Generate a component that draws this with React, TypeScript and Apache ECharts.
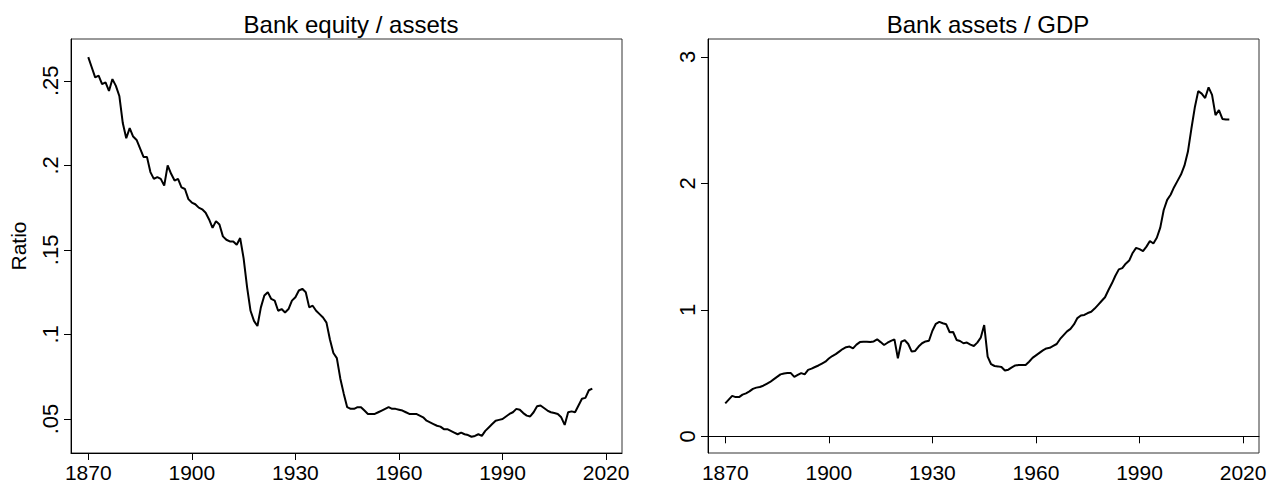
import React, { useEffect, useRef } from "react";
import * as echarts from "echarts";

const startYear = 1870;

const equityAssets = [
  0.264, 0.258, 0.252, 0.253, 0.248, 0.249, 0.244, 0.251, 0.247, 0.241,
  0.225, 0.216, 0.222, 0.217, 0.215, 0.210, 0.205, 0.205, 0.196, 0.192,
  0.193, 0.192, 0.188, 0.200, 0.195, 0.191, 0.192, 0.187, 0.186, 0.180,
  0.178, 0.177, 0.175, 0.174, 0.172, 0.168, 0.163, 0.167, 0.165, 0.158,
  0.156, 0.155, 0.155, 0.153, 0.157, 0.145, 0.128, 0.114, 0.108, 0.105,
  0.116, 0.123, 0.125, 0.121, 0.120, 0.114, 0.115, 0.113, 0.115, 0.120,
  0.122, 0.126, 0.127, 0.125, 0.116, 0.117, 0.114, 0.112, 0.110, 0.107,
  0.097, 0.089, 0.086, 0.074, 0.065, 0.057, 0.056, 0.056, 0.057, 0.057,
  0.055, 0.053, 0.053, 0.053, 0.054, 0.055, 0.056, 0.057, 0.056, 0.056,
  0.0555, 0.055, 0.054, 0.053, 0.053, 0.053, 0.052, 0.051, 0.049, 0.048,
  0.047, 0.046, 0.0455, 0.044, 0.044, 0.043, 0.042, 0.041, 0.042, 0.041,
  0.0405, 0.0395, 0.040, 0.041, 0.040, 0.043, 0.045, 0.047, 0.049, 0.0495,
  0.050, 0.0515, 0.053, 0.054, 0.056, 0.0555, 0.0535, 0.052, 0.0515, 0.054,
  0.0575, 0.058, 0.0565, 0.055, 0.054, 0.0535, 0.053, 0.051, 0.0465, 0.054,
  0.0545, 0.054, 0.058, 0.062, 0.0625, 0.067, 0.068,
];

const assetsGdp = [
  0.26, 0.29, 0.32, 0.31, 0.31, 0.33, 0.34, 0.355, 0.375, 0.385,
  0.39, 0.40, 0.415, 0.43, 0.45, 0.47, 0.49, 0.497, 0.50, 0.50,
  0.47, 0.485, 0.50, 0.49, 0.525, 0.535, 0.548, 0.56, 0.575, 0.59,
  0.615, 0.635, 0.65, 0.67, 0.69, 0.705, 0.71, 0.695, 0.725, 0.745,
  0.748, 0.748, 0.745, 0.75, 0.767, 0.745, 0.722, 0.74, 0.755, 0.767,
  0.617, 0.748, 0.76, 0.73, 0.67, 0.675, 0.71, 0.736, 0.75, 0.756,
  0.835, 0.89, 0.905, 0.894, 0.886, 0.823, 0.825, 0.762, 0.754, 0.736,
  0.741, 0.725, 0.714, 0.741, 0.78, 0.88, 0.63, 0.57, 0.556, 0.553,
  0.548, 0.52, 0.527, 0.545, 0.56, 0.564, 0.564, 0.564, 0.59, 0.62,
  0.64, 0.66, 0.68, 0.695, 0.70, 0.715, 0.73, 0.77, 0.80, 0.83,
  0.85, 0.885, 0.935, 0.955, 0.96, 0.975, 0.985, 1.01, 1.04, 1.07,
  1.10, 1.157, 1.21, 1.27, 1.32, 1.33, 1.365, 1.39, 1.45, 1.49,
  1.48, 1.465, 1.50, 1.545, 1.525, 1.57, 1.65, 1.79, 1.87, 1.91,
  1.97, 2.02, 2.07, 2.14, 2.25, 2.43, 2.60, 2.73, 2.71, 2.675,
  2.76, 2.70, 2.54, 2.58, 2.51, 2.505, 2.505,
];

const xTicks = [1870, 1900, 1930, 1960, 1990, 2020];
const leftTicks = [0.05, 0.1, 0.15, 0.2, 0.25];
const rightTicks = [0, 1, 2, 3];

const titles = ["Bank equity / assets", "Bank assets / GDP"];
const leftAxisName = "Ratio";

const FONT = '"Liberation Sans", Arial, Helvetica, sans-serif';

function toPairs(values: number[]) {
  return values.map((v, i) => [startYear + i, v]);
}

export default function App() {
  const ref = useRef<HTMLDivElement>(null);
  useEffect(() => {
    if (!ref.current) return;
    const chart = echarts.init(ref.current, null, { renderer: "svg" });
    const axisLine = { show: true, lineStyle: { color: "#000", width: 1 } };
    const axisTick = (vals: number[]) => ({
      show: true,
      length: 7,
      lineStyle: { color: "#000", width: 1 },
      customValues: vals,
    });
    const xAxis = (gi: number) => ({
      type: "value",
      gridIndex: gi,
      min: 1865,
      max: 2024.6,
      axisLine,
      axisTick: axisTick(xTicks),
      splitLine: { show: false },
      axisLabel: {
        customValues: xTicks,
        color: "#000",
        fontFamily: FONT,
        fontSize: 21,
        margin: 9,
        formatter: (v: number) => String(v),
      },
    });
    const titleStyle = { fontFamily: FONT, fontSize: 24, fontWeight: "normal", color: "#000" };
    chart.setOption({
      animation: false,
      backgroundColor: "#fff",
      title: [
        { text: titles[0], left: 346, textAlign: "center", top: 7, textStyle: titleStyle },
        { text: titles[1], left: 983, textAlign: "center", top: 7, textStyle: titleStyle },
      ],
      grid: [
        { left: 71, top: 39, width: 551, height: 414, show: true, borderColor: "#333", borderWidth: 1 },
        { left: 708, top: 39, width: 551, height: 414, show: true, borderColor: "#333", borderWidth: 1 },
      ],
      xAxis: [xAxis(0), xAxis(1)],
      yAxis: [
        {
          type: "value",
          gridIndex: 0,
          min: 0.0299,
          max: 0.2747,
          name: leftAxisName,
          nameLocation: "middle",
          nameGap: 42,
          nameRotate: 90,
          nameTextStyle: { fontFamily: FONT, fontSize: 21, color: "#000" },
          axisLine,
          axisTick: axisTick(leftTicks),
          splitLine: { show: false },
          axisLabel: {
            customValues: leftTicks,
            rotate: 90,
            color: "#000",
            fontFamily: FONT,
            fontSize: 22,
            margin: 10,
            formatter: (v: number) => String(v).replace(/^0/, ""),
          },
        },
        {
          type: "value",
          gridIndex: 1,
          min: -0.132,
          max: 3.142,
          axisLine,
          axisTick: axisTick(rightTicks),
          splitLine: { show: false },
          axisLabel: {
            customValues: rightTicks,
            rotate: 90,
            color: "#000",
            fontFamily: FONT,
            fontSize: 22,
            margin: 10,
            formatter: (v: number) => String(v),
          },
        },
      ],
      series: [
        {
          type: "line",
          xAxisIndex: 0,
          yAxisIndex: 0,
          data: toPairs(equityAssets),
          showSymbol: false,
          lineStyle: { color: "#000", width: 2 },
          silent: true,
        },
        {
          type: "line",
          xAxisIndex: 1,
          yAxisIndex: 1,
          data: toPairs(assetsGdp),
          showSymbol: false,
          lineStyle: { color: "#000", width: 2 },
          silent: true,
        },
      ],
    });
    return () => chart.dispose();
  }, []);
  return (
    <div
      ref={ref}
      style={{ position: "fixed", left: 0, top: 0, width: 1285, height: 488, background: "#fff" }}
    />
  );
}
